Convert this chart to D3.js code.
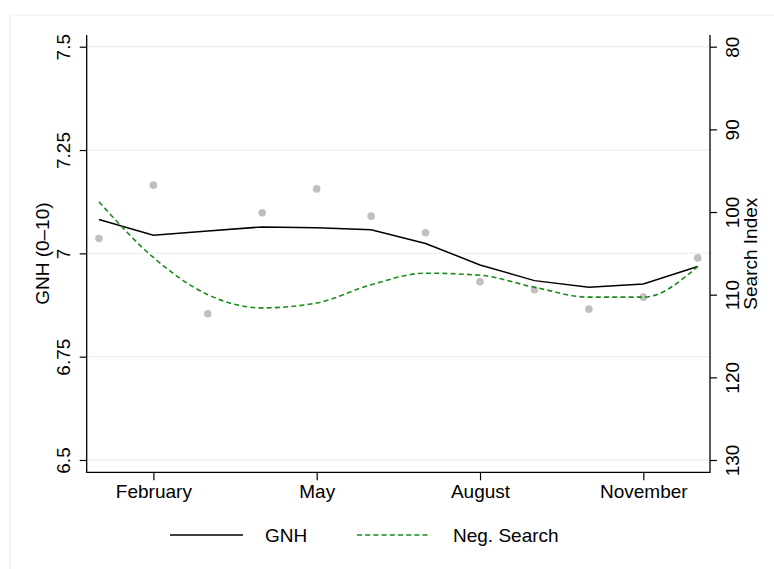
<!DOCTYPE html>
<html>
<head>
<meta charset="utf-8">
<script src="https://cdn.jsdelivr.net/npm/d3@7"></script>
<style>
  body { margin: 0; background: #fff; }
  svg { display: block; font-family: "Liberation Sans", Arial, sans-serif; }
</style>
</head>
<body>
<div id="chart"></div>
<script>
// data
var months = [1, 2, 3, 4, 5, 6, 7, 8, 9, 10, 11, 12];
var monthTicks = [2, 5, 8, 11];
var monthNames = ["February", "May", "August", "November"];
var gnhPoints = [7.036, 7.165, 6.854, 7.098, 7.156, 7.090, 7.050, 6.931, 6.912, 6.865, 6.894, 6.989];
var gnhLine = [7.082, 7.044, 7.054, 7.064, 7.062, 7.057, 7.024, 6.972, 6.934, 6.918, 6.926, 6.968];
var negSearch = [98.75, 105.5, 110.0, 111.6, 111.0, 108.8, 107.4, 107.65, 109.1, 110.3, 110.3, 106.6];
var gnhTicks = [6.5, 6.75, 7, 7.25, 7.5];
var searchTicks = [80, 90, 100, 110, 120, 130];

var width = 774, height = 569;
var plotLeft = 86.7, plotRight = 710, plotTop = 35, plotBottom = 472.3;

var svg = d3.select("#chart").append("svg")
  .attr("width", width)
  .attr("height", height);

// outer panel frame
svg.append("rect")
  .attr("x", 10).attr("y", 15)
  .attr("width", 800).attr("height", 600)
  .attr("fill", "#fff")
  .attr("stroke", "#eaf2f3")
  .attr("stroke-width", 1.2);

var x = d3.scaleLinear().domain([0.775, 12.225]).range([plotLeft, plotRight]);
var yL = d3.scaleLinear().domain([6.5, 7.5]).range([460, 46.7]);
var yR = d3.scaleLinear().domain([80, 130]).range([46.7, 460]);

// gridlines
svg.append("g").selectAll("line")
  .data(gnhTicks)
  .join("line")
  .attr("x1", plotLeft).attr("x2", plotRight)
  .attr("y1", d => yL(d)).attr("y2", d => yL(d))
  .attr("stroke", "#eaf2f3")
  .attr("stroke-width", 1.3);

// left axis
var gL = svg.append("g")
  .attr("transform", `translate(${plotLeft},0)`)
  .call(d3.axisLeft(yL).tickValues(gnhTicks).tickSize(7).tickFormat(d3.format("")));
gL.select(".domain").remove();
gL.selectAll("text")
  .attr("x", null).attr("dy", null)
  .attr("text-anchor", "middle")
  .attr("transform", "translate(-16.5,0) rotate(-90)");

// right axis
var gR = svg.append("g")
  .attr("transform", `translate(${plotRight},0)`)
  .call(d3.axisRight(yR).tickValues(searchTicks).tickSize(7));
gR.select(".domain").remove();
gR.selectAll("text")
  .attr("x", null).attr("dy", null)
  .attr("text-anchor", "middle")
  .attr("transform", "translate(29,0) rotate(-90)");

// bottom axis
var gB = svg.append("g")
  .attr("transform", `translate(0,${plotBottom})`)
  .call(d3.axisBottom(x).tickValues(monthTicks).tickSize(8)
    .tickFormat((d, i) => monthNames[i]));
gB.select(".domain").remove();
gB.selectAll("text").attr("y", 26).attr("dy", null);

[gL, gR, gB].forEach(g => {
  g.selectAll("text").attr("font-size", 19).attr("fill", "#000")
    .attr("font-family", "Liberation Sans, Arial, sans-serif");
  g.selectAll("line").attr("stroke", "#000").attr("stroke-width", 1.2);
});

// axis frame lines
svg.append("path")
  .attr("d", `M${plotLeft},${plotTop}V${plotBottom}H${plotRight}V${plotTop}`)
  .attr("fill", "none")
  .attr("stroke", "#000")
  .attr("stroke-width", 1.3);

// gray dots
svg.append("g").selectAll("circle")
  .data(months)
  .join("circle")
  .attr("cx", d => x(d))
  .attr("cy", (d, i) => yL(gnhPoints[i]))
  .attr("r", 3.8)
  .attr("fill", "#c0c0c0");

// GNH line
svg.append("path")
  .datum(months)
  .attr("fill", "none")
  .attr("stroke", "#000")
  .attr("stroke-width", 1.5)
  .attr("d", d3.line().x(d => x(d)).y((d, i) => yL(gnhLine[i])));

// Negative search line
svg.append("path")
  .datum(months)
  .attr("fill", "none")
  .attr("stroke", "#1a8c1a")
  .attr("stroke-width", 1.6)
  .attr("stroke-dasharray", "5,3.2")
  .attr("d", d3.line().curve(d3.curveMonotoneX).x(d => x(d)).y((d, i) => yR(negSearch[i])));

// axis titles
svg.append("text")
  .attr("transform", `translate(49,${(plotTop + plotBottom) / 2}) rotate(-90)`)
  .attr("text-anchor", "middle")
  .attr("font-size", 19)
  .text("GNH (0\u201310)");

svg.append("text")
  .attr("transform", `translate(757,${(plotTop + plotBottom) / 2}) rotate(-90)`)
  .attr("text-anchor", "middle")
  .attr("font-size", 19)
  .text("Search Index");

// legend
var legend = svg.append("g");
legend.append("line")
  .attr("x1", 170).attr("x2", 243).attr("y1", 535).attr("y2", 535)
  .attr("stroke", "#000").attr("stroke-width", 1.5);
legend.append("text")
  .attr("x", 265).attr("y", 542).attr("font-size", 19).text("GNH");
legend.append("line")
  .attr("x1", 357).attr("x2", 431).attr("y1", 535).attr("y2", 535)
  .attr("stroke", "#1a8c1a").attr("stroke-width", 1.6)
  .attr("stroke-dasharray", "5,3.2");
legend.append("text")
  .attr("x", 453).attr("y", 542).attr("font-size", 19).text("Neg. Search");
</script>
</body>
</html>
